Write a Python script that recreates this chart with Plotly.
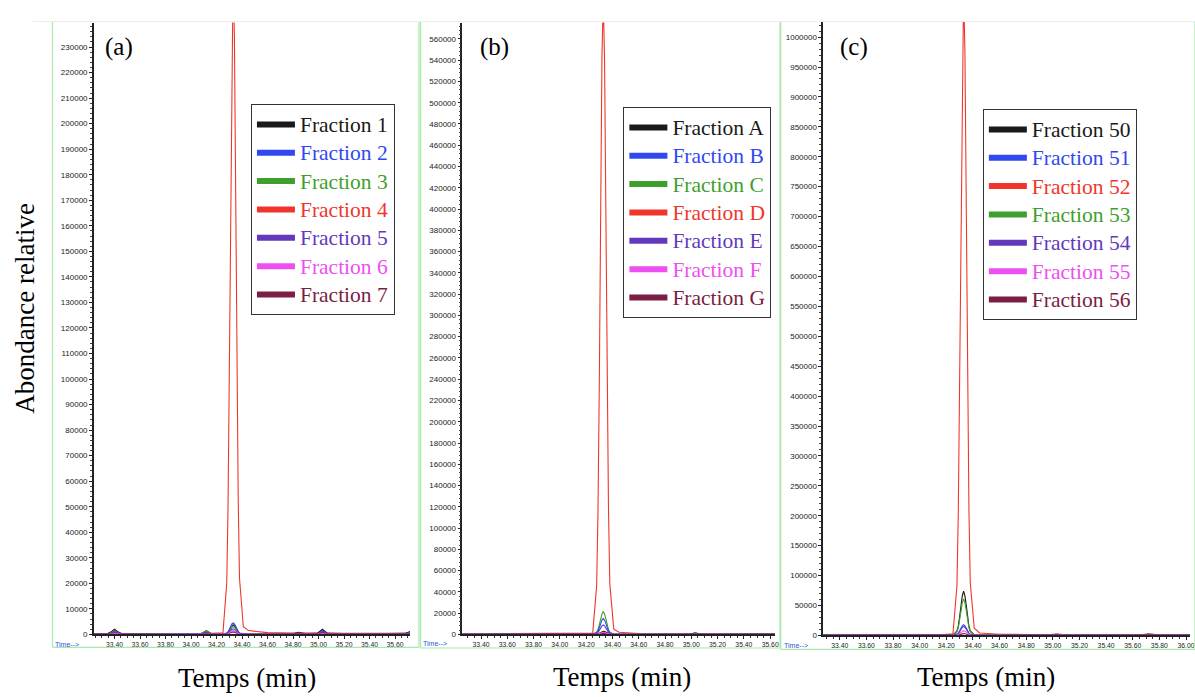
import plotly.graph_objects as go

W, H = 1195, 697

# ---------------- data ----------------
t_min = [33.24, 33.34, 33.37, 33.40, 33.43, 33.46, 33.60, 33.74, 33.80, 34.00,
         34.08, 34.12, 34.16, 34.25, 34.28, 34.29, 34.30, 34.31, 34.32, 34.33,
         34.34, 34.35, 34.36, 34.37, 34.38, 34.41, 34.45, 34.60, 34.80, 34.84,
         34.90, 34.99, 35.03, 35.07, 35.20, 35.40, 35.60, 35.68, 35.72, 35.80,
         36.04]

# panel (a)
a_names = ["Fraction 1", "Fraction 2", "Fraction 3", "Fraction 4", "Fraction 5", "Fraction 6", "Fraction 7"]
a_f1 = [100,200,900,2000,900,200,100,300,100,100, 300,1500,300,200,400,800,1600,2600,3400,3800,
        3400,2600,1600,800,400,200,100,100,200,600, 200,300,2000,300,100,200,200,400,1200,1200, 1200]
a_f2 = [0,100,500,1200,500,100,0,100,0,0, 200,800,200,100,500,1000,2000,3200,4100,4500,
        4100,3200,2000,1000,500,200,0,0,100,300, 100,200,1400,200,0,100,100,300,800,800, 800]
a_f3 = [0,100,600,1500,600,100,0,100,0,0, 300,1400,300,100,300,700,1400,2200,2800,3000,
        2800,2200,1400,700,300,100,0,0,100,200, 100,200,1200,200,0,100,100,200,600,600, 600]
a_f4 = [200,300,800,1800,800,300,300,400,300,300, 400,1000,400,600,20000,50000,102000,172000,234000,260000,
        234000,172000,102000,52000,22000,3000,1500,700,500,800, 500,600,1800,600,400,500,400,500,900,900, 900]
a_f5 = [0,0,300,800,300,0,0,0,0,0, 100,500,100,0,200,500,1000,1600,2000,2200,
        2000,1600,1000,500,200,0,0,0,0,100, 0,100,800,100,0,0,0,100,300,300, 300]
a_f6 = [0,0,100,300,100,0,0,0,0,0, 0,200,0,0,100,300,700,1100,1400,1500,
        1400,1100,700,300,100,0,0,0,0,0, 0,0,300,0,0,0,0,0,100,100, 100]
a_f7 = [0,0,200,500,200,0,0,0,0,0, 100,400,100,0,100,200,400,700,900,1000,
        900,700,400,200,100,0,0,0,0,100, 0,100,600,100,0,0,0,100,200,200, 200]

# panel (b)
b_names = ["Fraction A", "Fraction B", "Fraction C", "Fraction D", "Fraction E", "Fraction F", "Fraction G"]
b_fa = [200,200,400,900,400,200,200,200,200,200, 300,800,300,200,300,600,1200,2000,2700,3000,
        2700,2000,1200,600,300,200,200,200,200,300, 200,300,1500,300,200,200,200,300,300,300, 300]
b_fb = [0,0,100,300,100,0,0,0,0,0, 100,300,100,100,1500,3200,6300,10200,13400,15000,
        13400,10200,6300,3200,1500,200,0,0,0,100, 0,100,300,100,0,0,0,100,100,100, 100]
b_fc = [0,0,100,300,100,0,0,0,0,0, 100,300,100,100,2200,4500,9000,14600,19100,21500,
        19100,14600,9000,4500,2200,200,0,0,0,100, 0,100,300,100,0,0,0,100,100,100, 100]
b_fd = [500,500,600,900,600,500,500,500,500,500, 600,900,600,1200,46000,115000,235000,397000,540000,600000,
        540000,397000,235000,117000,48000,5000,2000,800,600,700, 600,700,1200,700,500,500,500,600,600,600, 600]
b_fe = [0,0,0,100,0,0,0,0,0,0, 0,100,0,0,900,1900,3800,6100,8000,9000,
        8000,6100,3800,1900,900,100,0,0,0,0, 0,0,100,0,0,0,0,0,0,0, 0]
b_ff = [0,0,0,0,0,0,0,0,0,0, 0,0,0,0,200,400,800,1400,1800,2000,
        1800,1400,800,400,200,0,0,0,0,0, 0,0,0,0,0,0,0,0,0,0, 0]
b_fg = [0,0,100,200,100,0,0,0,0,0, 0,200,0,0,100,250,500,800,1100,1200,
        1100,800,500,250,100,0,0,0,0,0, 0,0,300,0,0,0,0,0,0,0, 0]

# panel (c)
c_names = ["Fraction 50", "Fraction 51", "Fraction 52", "Fraction 53", "Fraction 54", "Fraction 55", "Fraction 56"]
c_f50 = [500,500,800,1500,800,500,500,500,500,500, 600,1200,600,600,7400,15500,31000,50300,65900,74000,
         65900,50300,31000,15500,7400,1000,600,500,500,600, 500,600,1500,600,500,500,500,600,800,600, 500]
c_f51 = [0,0,200,500,200,0,0,0,0,0, 200,800,200,100,1800,3800,7600,12200,16000,18000,
         16000,12200,7600,3800,1800,200,0,0,0,0, 0,0,500,0,0,0,0,0,200,200, 0]
c_f52 = [1000,1000,1500,2000,1500,1000,1000,1000,1000,1000, 1200,2000,1200,2500,83000,205000,421000,713000,972000,1080000,
         972000,713000,421000,210000,88000,12000,4000,2000,1500,2000, 1500,1500,2500,1500,1000,1000,1000,1000,1200,1000, 1000]
c_f53 = [0,0,300,800,300,0,0,0,0,0, 200,600,200,200,6100,12800,25600,41500,54300,61000,
         54300,41500,25600,12800,6100,500,100,0,0,100, 0,100,800,100,0,0,0,100,300,100, 0]
c_f54 = [0,0,200,600,200,0,0,0,0,0, 300,1500,300,100,1500,3200,6300,10200,13400,15000,
         13400,10200,6300,3200,1500,100,0,0,0,0, 0,0,400,0,0,0,0,0,200,100, 0]
c_f55 = [0,0,100,300,100,0,0,0,0,0, 200,1200,200,0,800,1700,3400,5400,7100,8000,
         7100,5400,3400,1700,800,0,0,0,0,0, 0,0,200,0,0,0,0,0,100,0, 0]
c_f56 = [0,0,100,300,100,0,0,0,0,0, 100,500,100,0,300,600,1300,2000,2700,3000,
         2700,2000,1300,600,300,0,0,0,0,0, 0,0,400,0,0,0,0,1500,2500,500, 0]

x_tick_vals = [33.40, 33.60, 33.80, 34.00, 34.20, 34.40, 34.60, 34.80, 35.00, 35.20, 35.40, 35.60, 35.80, 36.00]

# ---------------- style ----------------
BLACK, BLUE, GREEN, RED = "#1a1a1a", "#3048f0", "#3f9f2c", "#f0362c"
PURPLE, MAGENTA, MAROON = "#6438bd", "#ee4ff0", "#7a1e46"

a_colors = [BLACK, BLUE, GREEN, RED, PURPLE, MAGENTA, MAROON]
b_colors = [BLACK, BLUE, GREEN, RED, PURPLE, MAGENTA, MAROON]
c_colors = [BLACK, BLUE, RED, GREEN, PURPLE, MAGENTA, MAROON]

a_series = [a_f1, a_f2, a_f3, a_f4, a_f5, a_f6, a_f7]
b_series = [b_fa, b_fb, b_fc, b_fd, b_fe, b_ff, b_fg]
c_series = [c_f50, c_f51, c_f52, c_f53, c_f54, c_f55, c_f56]


def px(x):
    return x / W


def py(y):
    return 1 - y / H


SERIF = "Liberation Serif"
SANS = "Liberation Sans"

fig = go.Figure()

# draw order: big red peak behind, others on top
panels = [
    ("x", "y", "legend", a_names, a_series, a_colors, [3, 0, 2, 1, 4, 6, 5]),
    ("x2", "y2", "legend2", b_names, b_series, b_colors, [3, 0, 2, 1, 4, 6, 5]),
    ("x3", "y3", "legend3", c_names, c_series, c_colors, [2, 0, 3, 1, 4, 6, 5]),
]
for xa, ya, lg, names, series, colors, order in panels:
    for i in order:
        fig.add_trace(go.Scatter(x=t_min, y=series[i], mode="lines", xaxis=xa, yaxis=ya,
                                 line=dict(color=colors[i], width=1.1), showlegend=False,
                                 hoverinfo="skip"))
    for i in range(len(names)):
        fig.add_trace(go.Scatter(x=[None], y=[None], mode="lines", xaxis=xa, yaxis=ya,
                                 line=dict(color=colors[i], width=6),
                                 name=f"<span style='color:{colors[i]};font-size:21.5px'>{names[i]}</span>",
                                 legend=lg, showlegend=True))

# axes geometry (pixel positions in the picture)
axes_geo = [
    # x0, x1, y_bottom, y_top, xrange, ytop, ydtick, yminor
    (94.3, 411.7, 639, 22.7, [33.238, 35.717], 239600, 10000, 2000),
    (464.3, 778.0, 639, 22.7, [33.258, 35.635], 575400, 20000, 4000),
    (826.7, 1195.0, 640, 22.0, [33.276, 36.03], 1025500, 50000, 10000),
]
layout_axes = {}
for k, (x0, x1, yb, yt, xr, ytop, ydt, ymn) in enumerate(axes_geo):
    sx = "" if k == 0 else str(k + 1)
    layout_axes["xaxis" + sx] = dict(
        domain=[px(x0), px(x1)], range=xr, anchor="y" + sx,
        tickmode="array", tickvals=x_tick_vals, ticktext=[f"{v:.2f}" for v in x_tick_vals],
        showline=True, linecolor="#222", linewidth=1.5, ticks="outside", ticklen=3,
        tickcolor="#222", tickfont=dict(family=SANS, size=6.8, color="#222"),
        ticklabeloverflow="allow",
        minor=dict(ticks="outside", ticklen=2, dtick=0.05, tick0=33.4, tickcolor="#333"),
        showgrid=False, zeroline=False, fixedrange=True)
    layout_axes["yaxis" + sx] = dict(
        domain=[py(yb), py(yt)], range=[0, ytop], anchor="x" + sx,
        dtick=ydt, tick0=0, tickformat="d",
        showline=True, linecolor="#222", linewidth=1.5, ticks="outside", ticklen=3,
        tickcolor="#222", tickfont=dict(family=SANS, size=8, color="#222"),
        minor=dict(ticks="outside", ticklen=2, dtick=ymn, tickcolor="#444"),
        showgrid=False, zeroline=False, fixedrange=True)

legend_style = dict(font=dict(family=SERIF, size=19.5, color="black"), bgcolor="white",
                    bordercolor="#333", borderwidth=1, xanchor="left", yanchor="top",
                    tracegroupgap=0, itemwidth=38)

fig.update_layout(
    width=W, height=H, margin=dict(l=0, r=0, t=0, b=0),
    paper_bgcolor="white", plot_bgcolor="white",
    legend=dict(x=px(252), y=py(105), **legend_style),
    legend2=dict(x=px(626), y=py(108), **legend_style),
    legend3=dict(x=px(987), y=py(110), **legend_style),
    **layout_axes,
)

# green frames around each chromatogram
GREEN_FRAME = "#a8eaa8"
frames = [(52.7, 420.7, 21.7, 652), (422.3, 783.3, 21.7, 652.7), (784, 1200, 21.7, 654)]
shapes = []
for x0, x1, y0, y1 in frames:
    shapes.append(dict(type="line", xref="paper", yref="paper", x0=px(x0), x1=px(x0), y0=py(y0), y1=py(y1),
                       line=dict(color=GREEN_FRAME, width=1.2)))
    shapes.append(dict(type="line", xref="paper", yref="paper", x0=px(x1), x1=px(x1), y0=py(y0), y1=py(y1),
                       line=dict(color=GREEN_FRAME, width=1.2)))
    shapes.append(dict(type="line", xref="paper", yref="paper", x0=px(x0), x1=px(x1), y0=py(y1), y1=py(y1),
                       line=dict(color=GREEN_FRAME, width=1.2)))
    shapes.append(dict(type="line", xref="paper", yref="paper", x0=px(x0 - 20), x1=px(x1), y0=py(y0), y1=py(y0),
                       line=dict(color="#ececec", width=1)))
fig.update_layout(shapes=shapes)

annotations = []
for txt, x, y in [("(a)", 120, 47), ("(b)", 497, 47), ("(c)", 858, 47)]:
    annotations.append(dict(text=txt, x=px(x), y=py(y), xref="paper", yref="paper", showarrow=False,
                            xanchor="center", yanchor="middle", font=dict(family=SERIF, size=25, color="black")))
for x, y in [(248, 683), (625, 682), (990, 682)]:
    annotations.append(dict(text="Temps (min)", x=px(x), y=py(y), xref="paper", yref="paper", showarrow=False,
                            xanchor="center", yanchor="middle", font=dict(family=SERIF, size=27, color="black")))
for x, y in [(53, 649), (423, 648), (785, 650)]:
    annotations.append(dict(text="Time--&gt;", x=px(x), y=py(y), xref="paper", yref="paper", showarrow=False,
                            xanchor="left", yanchor="middle", font=dict(family=SANS, size=7, color="#3050e0")))
annotations.append(dict(text="Abondance relative", x=px(25), y=py(310), xref="paper", yref="paper",
                        showarrow=False, textangle=-90, xanchor="center", yanchor="middle",
                        font=dict(family=SERIF, size=27, color="black")))
fig.update_layout(annotations=annotations)

fig.write_html(
    "out.html",
    config={"displayModeBar": False},
    post_script=(
        "document.documentElement.style.margin='0';"
        "document.body.style.margin='0';"
        "document.body.style.overflow='hidden';"
        "document.querySelectorAll('.svg-container').forEach(function(e){e.style.display='block';});"
        "var gd=document.getElementById('{plot_id}');"
        "if(gd&&gd.parentNode){gd.parentNode.style.height='697px';gd.parentNode.style.overflow='hidden';}"
    ),
)
